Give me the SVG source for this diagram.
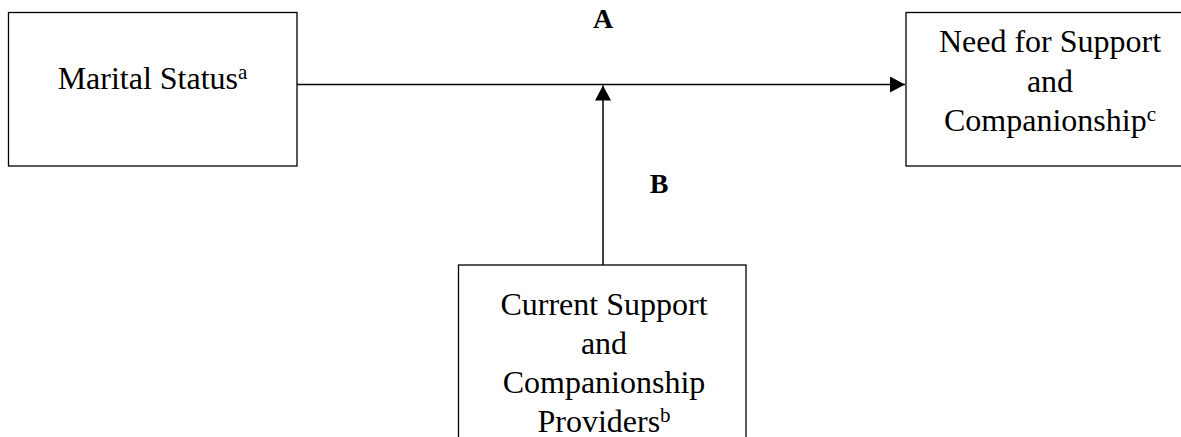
<svg xmlns="http://www.w3.org/2000/svg" width="1181" height="437" viewBox="0 0 1181 437">
<style>
.box{fill:#fff;stroke:#000;stroke-width:1.3}
.t{font-family:"Liberation Serif","Times New Roman",serif;font-size:32px;fill:#000;text-anchor:middle}
.sup{font-size:21px}
.lbl{font-family:"Liberation Serif","Times New Roman",serif;font-size:28px;font-weight:bold;fill:#000;text-anchor:middle}
.conn{stroke:#000;stroke-width:1.5;fill:none}
</style>
<defs>
<marker id="arr" viewBox="0 0 15 16" refX="15" refY="8" markerWidth="15" markerHeight="16" markerUnits="userSpaceOnUse" orient="auto">
<path d="M0,0 L15,8 L0,16 Z" fill="#000"/>
</marker>
</defs>
<rect width="1181" height="437" fill="#fff"/>
<g id="connectors">
<line class="conn" x1="297" y1="84.5" x2="905" y2="84.5" marker-end="url(#arr)"/>
<line class="conn" x1="603" y1="265" x2="603" y2="85.5" stroke="#444" marker-end="url(#arr)"/>
<text class="lbl" x="603" y="28">A</text>
<text class="lbl" x="659" y="193">B</text>
</g>
<g id="marital">
<rect class="box" x="8.5" y="12.5" width="288.5" height="153.5"/>
<text class="t" x="152.5" y="89">Marital Status<tspan class="sup" dy="-10">a</tspan></text>
</g>
<g id="need">
<rect class="box" x="906" y="12.5" width="288" height="153.5"/>
<text class="t" x="1050" y="52">Need for Support</text>
<text class="t" x="1050" y="92">and</text>
<text class="t" x="1050" y="131">Companionship<tspan class="sup" dy="-10">c</tspan></text>
</g>
<g id="current">
<rect class="box" x="458.5" y="265" width="287.5" height="190"/>
<text class="t" x="604" y="315">Current Support</text>
<text class="t" x="604" y="354">and</text>
<text class="t" x="604" y="393">Companionship</text>
<text class="t" x="604" y="432">Providers<tspan class="sup" dy="-10">b</tspan></text>
</g>
</svg>
